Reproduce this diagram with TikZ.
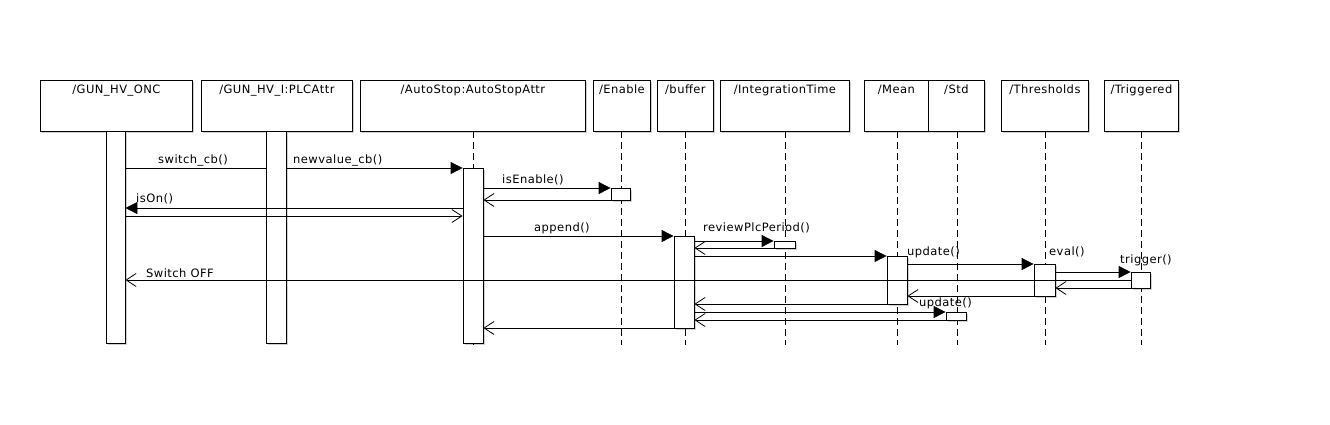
\documentclass[tikz,border=0pt]{standalone}
\usepackage{fontspec}
\setmainfont[LetterSpace=4]{DejaVu Sans}
\usetikzlibrary{arrows.meta,shadows}
\begin{document}
\begin{tikzpicture}[x=1pt,y=-1pt,
  every node/.style={font=\fontsize{11.5}{13}\selectfont},
  objbox/.style={draw, fill=white, line width=0.8pt, inner sep=0pt, minimum height=51pt, anchor=north west,
     general shadow={shadow xshift=1.5pt, shadow yshift=-1.5pt, fill=black, opacity=0.18}},
  title/.style={anchor=base, inner sep=0pt},
  actbar/.style={draw, fill=white, line width=0.8pt, inner sep=0pt, minimum width=20pt, anchor=north,
     general shadow={shadow xshift=1.5pt, shadow yshift=-1.5pt, fill=black, opacity=0.18}},
  lifeline/.style={line width=0.8pt, dash pattern=on 7pt off 4pt},
  msg/.style={line width=0.8pt, -{Triangle[length=12pt,width=12pt]}},
  ret/.style={line width=0.8pt, -{Straight Barb[length=10pt,width=13pt,line width=0.8pt]}},
  plain/.style={line width=0.8pt},
  lbl/.style={anchor=base west, inner sep=0pt}
]
\useasboundingbox (0,0) rectangle (1330,424);

% object boxes
\node[objbox, minimum width=152pt] (onc) at (40,80) {};
\node[objbox, minimum width=151pt] (plc) at (201,80) {};
\node[objbox, minimum width=225pt] (as)  at (360,80) {};
\node[objbox, minimum width=57pt]  (en)  at (593,80) {};
\node[objbox, minimum width=56pt]  (buf) at (657,80) {};
\node[objbox, minimum width=129pt] (it)  at (720,80) {};
\node[objbox, minimum width=64pt]  (mean) at (864,80) {};
\node[objbox, minimum width=56pt]  (std) at (928,80) {};
\node[objbox, minimum width=87pt]  (thr) at (1001,80) {};
\node[objbox, minimum width=74pt]  (trg) at (1104,80) {};

\node[title] (onct) at ([yshift=-13pt]onc.north) {/GUN\_HV\_ONC};
\node[title] (plct) at ([yshift=-13pt]plc.north) {/GUN\_HV\_I:PLCAttr};
\node[title] (ast) at ([yshift=-13pt]as.north) {/AutoStop:AutoStopAttr};
\node[title] (ent) at ([yshift=-13pt]en.north) {/Enable};
\node[title] (buft) at ([yshift=-13pt]buf.north) {/buffer};
\node[title] (itt) at ([yshift=-13pt]it.north) {/IntegrationTime};
\node[title] (meant) at ([yshift=-13pt]mean.north) {/Mean};
\node[title] (stdt) at ([yshift=-13pt]std.north) {/Std};
\node[title] (thrt) at ([yshift=-13pt]thr.north) {/Thresholds};
\node[title] (trgt) at ([yshift=-13pt]trg.north) {/Triggered};

% lifelines
\foreach \n/\x in {as/473, en/621, buf/685, it/785, mean/897, std/957, thr/1045, trg/1141}{
  \coordinate (\n T) at (\x,131);
  \coordinate (\n B) at (\x,345);
  \draw[lifeline] (\n T) -- (\n B);
}

% y levels
\foreach \i/\y in {1/168,2/188,3/200,4/208,5/216,6/236,7/241,8/248,9/256,10/264,11/272,12/280,13/288,14/296,15/304,16/312,17/320,18/328}{
  \coordinate (y\i) at (0,\y);
}

% first message (behind the PLCAttr bar)
\node[actbar, minimum width=19pt, minimum height=212pt] (oncbar) at (115.5,131) {};
\draw[plain] (oncbar.east |- y1) -- (276,168);

% activation bars
\node[actbar, minimum height=212pt] (plcbar) at (276,131) {};
\node[actbar, minimum height=175pt] (asbar) at (473,168) {};
\node[actbar, minimum width=19pt, minimum height=12pt] (enbar) at (620.5,188) {};
\node[actbar, minimum height=92pt] (bufbar) at (684,236) {};
\node[actbar, minimum width=21pt, minimum height=7pt] (itbar) at (784.5,241) {};
\node[actbar, minimum height=48pt] (meanbar) at (897,256) {};
\node[actbar, minimum width=21pt, minimum height=32pt] (thrbar) at (1044.5,264) {};
\node[actbar, minimum width=19pt, minimum height=16pt] (trgbar) at (1140.5,272) {};
\node[actbar, minimum height=8pt] (stdbar) at (956,312) {};

% messages
\draw[msg] (plcbar.east |- y1) -- (asbar.west |- y1);
\draw[msg] (asbar.east |- y2) -- (enbar.west |- y2);
\draw[ret] (enbar.west |- y3) -- (asbar.east |- y3);
\draw[msg] (asbar.west |- y4) -- (oncbar.east |- y4);
\draw[ret] (oncbar.east |- y5) -- (asbar.west |- y5);
\draw[msg] (asbar.east |- y6) -- (bufbar.west |- y6);
\draw[msg] (bufbar.east |- y7) -- (itbar.west |- y7);
\draw[ret] (itbar.west |- y8) -- (bufbar.east |- y8);
\draw[msg] (bufbar.east |- y9) -- (meanbar.west |- y9);
\draw[msg] (meanbar.east |- y10) -- (thrbar.west |- y10);
\draw[msg] (thrbar.east |- y11) -- (trgbar.west |- y11);
\draw[ret] (trgbar.west |- y12) -- (oncbar.east |- y12);
\draw[ret] (trgbar.west |- y13) -- (thrbar.east |- y13);
\draw[ret] (thrbar.west |- y14) -- (meanbar.east |- y14);
\draw[ret] (meanbar.west |- y15) -- (bufbar.east |- y15);
\draw[msg] (bufbar.east |- y16) -- (stdbar.west |- y16);
\draw[ret] (stdbar.west |- y17) -- (bufbar.east |- y17);
\draw[ret] (bufbar.west |- y18) -- (asbar.east |- y18);

% labels
\node[lbl] (l1) at (158,163) {switch\_cb()};
\node[lbl] (l2) at (293,163) {newvalue\_cb()};
\node[lbl] (l3) at (502,183) {isEnable()};
\node[lbl] (l4) at (136,202) {isOn()};
\node[lbl] (l5) at (534,231) {append()};
\node[lbl] (l6) at (703,231) {reviewPlcPeriod()};
\node[lbl] (l7) at (907,255) {update()};
\node[lbl] (l8) at (1049,255) {eval()};
\node[lbl] (l9) at (1120,263) {trigger()};
\node[lbl] (l10) at (146,277) {Switch OFF};
\node[lbl] (l11) at (919,306) {update()};
\end{tikzpicture}
\end{document}
